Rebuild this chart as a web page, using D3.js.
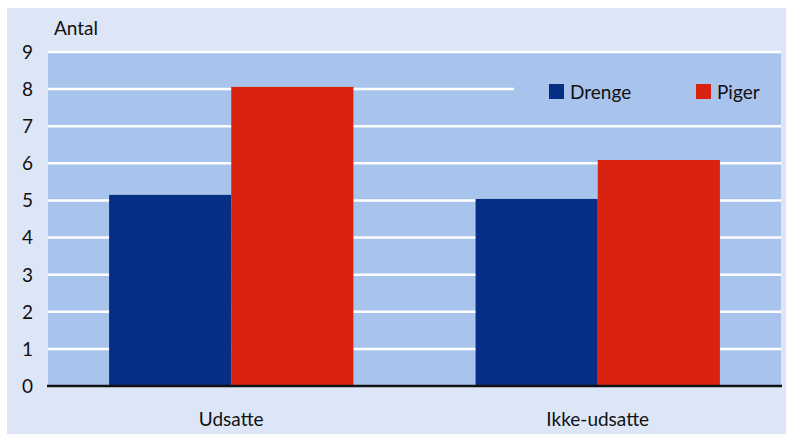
<!DOCTYPE html>
<html>
<head>
<meta charset="utf-8">
<script src="https://cdn.jsdelivr.net/npm/d3@7"></script>
<style>
  body { margin: 0; background: #fff; }
  text { font-family: Lato, "Open Sans", sans-serif; fill: #111; }
</style>
</head>
<body>
<svg id="chart" width="786" height="434"></svg>
<script>
// data
const categories = ['Udsatte', 'Ikke-udsatte'];
const seriesNames = ['Drenge', 'Piger'];
const drenge = [5.15, 5.04];
const piger = [8.06, 6.09];
const yTicks = [0, 1, 2, 3, 4, 5, 6, 7, 8, 9];
const colors = ['#062e85', '#d92310'];

const svg = d3.select('#chart');
const margin = { left: 48, right: 5, top: 51, bottom: 48 };
const width = 786, height = 434;

// outer panel
svg.append('rect')
  .attr('x', 7).attr('y', 8)
  .attr('width', width - 7).attr('height', height - 8)
  .attr('fill', '#dde6f7');

const x0 = d3.scaleBand()
  .domain(categories)
  .range([margin.left, width - margin.right])
  .padding(0);

const x1 = d3.scaleBand()
  .domain(seriesNames)
  .range([0, x0.bandwidth()])
  .paddingInner(0)
  .paddingOuter(0.5);

const y = d3.scaleLinear()
  .domain([0, 9])
  .range([height - margin.bottom, margin.top + 1]);

// plot background
svg.append('rect')
  .attr('x', margin.left).attr('y', margin.top)
  .attr('width', width - margin.right - margin.left)
  .attr('height', y(0) - margin.top)
  .attr('fill', '#a8c4ec');

// gridlines
svg.append('g')
  .selectAll('line')
  .data(yTicks.filter(d => d > 0))
  .join('line')
  .attr('x1', margin.left).attr('x2', width - margin.right)
  .attr('y1', d => y(d)).attr('y2', d => y(d))
  .attr('stroke', '#fff')
  .attr('stroke-width', 2.5);

// legend box hides the gridline behind it
svg.append('rect')
  .attr('x', 514).attr('y', y(9) + 2)
  .attr('width', width - margin.right - 514)
  .attr('height', y(7) - y(9) - 4)
  .attr('fill', '#a8c4ec');

// bars
const rows = categories.map((c, i) => ({ cat: c, vals: [drenge[i], piger[i]] }));
const groups = svg.append('g')
  .selectAll('g')
  .data(rows)
  .join('g')
  .attr('transform', d => 'translate(' + x0(d.cat) + ',0)');

groups.selectAll('rect')
  .data(d => d.vals.map((v, j) => ({ key: seriesNames[j], value: v, color: colors[j] })))
  .join('rect')
  .attr('x', d => x1(d.key))
  .attr('width', x1.bandwidth())
  .attr('y', d => y(d.value))
  .attr('height', d => y(0) - y(d.value))
  .attr('fill', d => d.color);

// zero line
svg.append('line')
  .attr('x1', margin.left - 1).attr('x2', width - margin.right + 1)
  .attr('y1', y(0)).attr('y2', y(0))
  .attr('stroke', '#111')
  .attr('stroke-width', 2.5);

// y tick labels
svg.append('g')
  .selectAll('text')
  .data(yTicks)
  .join('text')
  .attr('x', 33)
  .attr('y', d => y(d))
  .attr('dy', '0.36em')
  .attr('text-anchor', 'end')
  .attr('font-size', 19)
  .text(d => d);

svg.append('text')
  .attr('x', 54).attr('y', 35)
  .attr('font-size', 19)
  .text('Antal');

// category labels
svg.append('g')
  .selectAll('text')
  .data(categories)
  .join('text')
  .attr('x', d => x0(d) + x0.bandwidth() / 2)
  .attr('y', 426)
  .attr('text-anchor', 'middle')
  .attr('font-size', 19)
  .text(d => d);

// legend
const legendX = [549, 696];
const legend = svg.append('g')
  .selectAll('g')
  .data(seriesNames)
  .join('g')
  .attr('transform', (d, i) => 'translate(' + legendX[i] + ',84)');

legend.append('rect')
  .attr('width', 15).attr('height', 15)
  .attr('fill', (d, i) => colors[i]);

legend.append('text')
  .attr('x', 21).attr('y', 14.5)
  .attr('font-size', 19)
  .text(d => d);
</script>
</body>
</html>
